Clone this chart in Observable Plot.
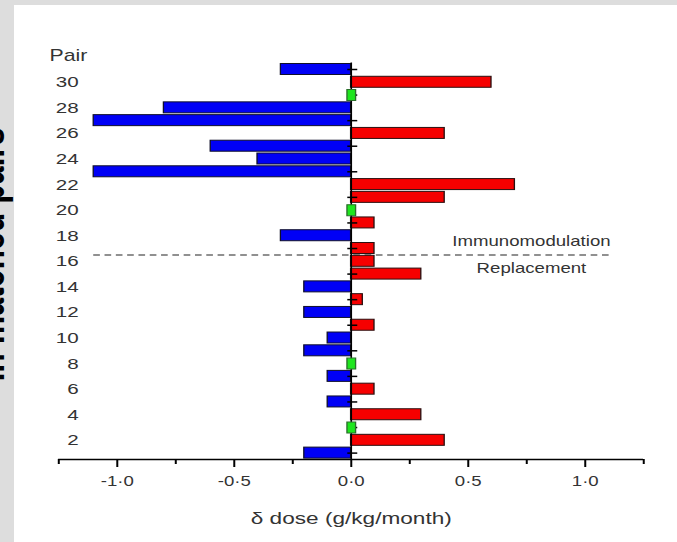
<!DOCTYPE html>
<html>
<head>
<meta charset="utf-8">
<script src="https://cdn.jsdelivr.net/npm/d3@7"></script>
<script src="https://cdn.jsdelivr.net/npm/@observablehq/plot@0.6"></script>
<style>
html, body { margin: 0; padding: 0; background: #dddddd; width: 677px; height: 542px; overflow: hidden; }
#panel { position: absolute; left: 14px; top: 5px; right: 0; bottom: 0; background: #ffffff; }
#chart { position: absolute; left: 0; top: 0; width: 677px; height: 542px; }
</style>
</head>
<body>
<div id="panel"></div>
<div id="chart"></div>
<script>
// ---- data ----
const pairs    = [1, 2, 3, 4, 5, 6, 7, 8, 9, 10, 11, 12, 13, 14, 15, 16, 17, 18, 19, 20, 21, 22, 23, 24, 25, 26, 27, 28, 29, 30, 31];
const doseDiff = [-0.2, 0.4, 0, 0.3, -0.1, 0.1, -0.1, 0, -0.2, -0.1, 0.1, -0.2, 0.05, -0.2, 0.3, 0.1, 0.1, -0.3, 0.1, 0, 0.4, 0.7, -1.1, -0.4, -0.6, 0.4, -1.1, -0.8, 0, 0.6, -0.3];
const yTickLabels = [2, 4, 6, 8, 10, 12, 14, 16, 18, 20, 22, 24, 26, 28, 30];
const yMinorTicks = [1, 3, 5, 7, 9, 11, 13, 15, 17, 19, 21, 23, 25, 27, 29, 31];
const xMajorTicks = [-1, -0.5, 0, 0.5, 1];
const xMinorTicks = [-1.25, -0.75, -0.25, 0.25, 0.75, 1.25];
const groupNames  = ["Immunomodulation", "Replacement"];
const dividerPair = [16];          // dashed line drawn just above this pair
const dividerSpan = [-1.1, 1.12];  // x extent of the dashed line
const groupLabelX = [0.77];
const xTitle = "δ dose (g/kg/month)";
const yTitle = "Pair";
const sideTitle = "in matched pairs";

// ---- layout ----
const W = 509, H = 542;
const stretch = 677 / W;
const mL = 43.7, mR = 25.5, mT = 62.6, mB = 83;
const step = (H - mT - mB) / pairs.length;

const rows = pairs.map((p, i) => ({pair: p, value: doseDiff[i]}));
const neg = rows.filter(d => d.value < 0);
const pos = rows.filter(d => d.value > 0);
const zero = rows.filter(d => d.value === 0);
const divider = dividerPair.map(p => ({pair: p, x1: dividerSpan[0], x2: dividerSpan[1]}));
const fmt = d => (d < 0 ? "-" : "") + Math.abs(d).toFixed(1).replace(".", "·");

const tickSym = {draw(ctx) { ctx.moveTo(-3, 0); ctx.lineTo(4.5, 0); }};
const greenSym = {draw(ctx) { ctx.rect(-3.25, -5.5, 6.5, 11); }};

const plot = Plot.plot({
  width: W,
  height: H,
  marginLeft: mL,
  marginRight: mR,
  marginTop: mT,
  marginBottom: mB,
  style: {background: "none", overflow: "visible", fontFamily: "'Liberation Sans', Arial, sans-serif"},
  x: {domain: [-1.25, 1.25]},
  y: {type: "band", domain: pairs.slice().reverse(), paddingInner: 0.14, paddingOuter: 0.07, round: false},
  marks: [
    Plot.ruleY(divider, {y: "pair", x1: "x1", x2: "x2", dy: -step / 2, stroke: "#222", strokeWidth: 1, strokeDasharray: "5,3.5"}),
    Plot.barX(neg, {x: "value", y: "pair", fill: "#0000f6", stroke: "#10102a", strokeWidth: 1}),
    Plot.barX(pos, {x: "value", y: "pair", fill: "#f60000", stroke: "#2a1010", strokeWidth: 1}),
    Plot.ruleX([0], {stroke: "#000", strokeWidth: 1.2}),
    Plot.dot(yMinorTicks, {x: () => 0, y: d => d, symbol: tickSym, stroke: "#000", strokeWidth: 1.5, fill: "none"}),
    Plot.dot(zero, {x: "value", y: "pair", symbol: greenSym, fill: "#1ee61e", stroke: "#2b6e2b", strokeWidth: 1}),
    Plot.ruleY([pairs[0]], {dy: step / 2, stroke: "#000", strokeWidth: 1.5}),
    Plot.axisX({ticks: xMajorTicks, tickSize: 8, tickPadding: 9, tickFormat: fmt, fontSize: 14, stroke: "#000", strokeWidth: 1.5, fill: "#333", label: null}),
    Plot.axisX({ticks: xMinorTicks, tickSize: 5, tickFormat: () => "", stroke: "#000", strokeWidth: 1.5, label: null}),
    Plot.axisY({ticks: yTickLabels, tickSize: 0, tickPadding: 0, dx: 14.9, fontSize: 15.5, fill: "#333", label: null}),
    Plot.text([yTitle], {frameAnchor: "top-left", text: d => d, textAnchor: "start", dx: -6.9, dy: -13.5, fontSize: 16, fill: "#333"}),
    Plot.text([xTitle], {frameAnchor: "bottom", text: d => d, lineAnchor: "top", dy: 52, fontSize: 17, fill: "#333"}),
    Plot.text([{label: groupNames[0], x: groupLabelX[0], pair: dividerPair[0]}], {x: "x", y: "pair", text: "label", dy: -step / 2 - 13.8, fontSize: 14, fill: "#333"}),
    Plot.text([{label: groupNames[1], x: groupLabelX[0], pair: dividerPair[0]}], {x: "x", y: "pair", text: "label", dy: -step / 2 + 13.8, fontSize: 14, fill: "#333"}),
    Plot.text([sideTitle], {frameAnchor: "left", text: d => d, rotate: -90, textAnchor: "middle", lineAnchor: "bottom", dx: 2.6 - mL, dy: 254 - (mT + (H - mB)) / 2, fontSize: 32, fontWeight: "bold", fill: "#000"})
  ]
});
plot.style.transformOrigin = "0 0";
plot.style.transform = `scaleX(${stretch})`;
document.getElementById("chart").appendChild(plot);
</script>
</body>
</html>
